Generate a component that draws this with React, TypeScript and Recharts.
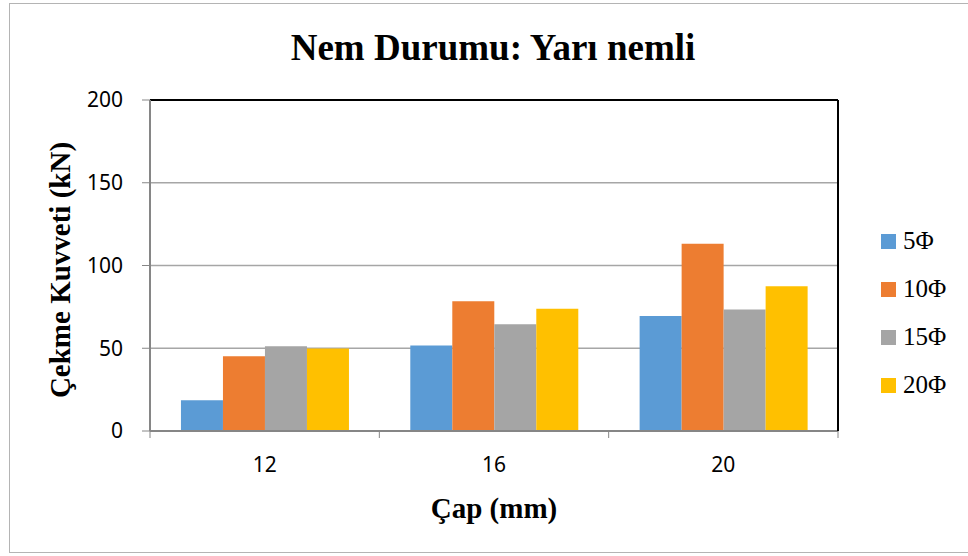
import { BarChart, Bar, XAxis, YAxis, CartesianGrid, ReferenceLine } from 'recharts'

const categories = ['12', '16', '20']
const seriesNames = ['5Φ', '10Φ', '15Φ', '20Φ']
const v5 = [18.6, 51.6, 69.5]
const v10 = [45.2, 78.4, 113.1]
const v15 = [51.2, 64.5, 73.4]
const v20 = [49.8, 73.8, 87.5]
const yTicks = [0, 50, 100, 150, 200]

const COLORS = ['#5B9BD5', '#ED7D31', '#A5A5A5', '#FFC000']
const keys = ['s5', 's10', 's15', 's20']

const data = categories.map((c, i) => ({ cap: c, s5: v5[i], s10: v10[i], s15: v15[i], s20: v20[i] }))

const AXIS = '#868686'
const TICK_FONT = '"Noto Sans", "Open Sans", sans-serif'
const SERIF = '"Liberation Serif", "Times New Roman", serif'

function XTick({ x, y, payload, index }: any) {
  const half = (838 - 150) / categories.length / 2
  return (
    <g>
      <line x1={x - half} y1={y - 8} x2={x - half} y2={y - 1} stroke={AXIS} />
      {index === categories.length - 1 && (
        <line x1={x + half} y1={y - 8} x2={x + half} y2={y - 1} stroke={AXIS} />
      )}
      <text x={x} y={y + 33} textAnchor="middle" fill="#000" fontSize={21} fontFamily={TICK_FONT}>
        {payload.value}
      </text>
    </g>
  )
}

function LegendBox() {
  return (
    <div style={{ position: 'absolute', left: 881, top: 217, fontFamily: SERIF, fontSize: 25 }}>
      {seriesNames.map((n, i) => (
        <div key={n} style={{ display: 'flex', alignItems: 'center', height: 48 }}>
          <span style={{ width: 15, height: 15, background: COLORS[i], marginRight: 7, display: 'inline-block' }} />
          <span>{n}</span>
        </div>
      ))}
    </div>
  )
}

export default function App() {
  return (
    <div style={{ position: 'absolute', left: 0, top: 0, width: 968, height: 556, background: '#fff' }}>
      <div style={{ position: 'absolute', left: 9, top: 3, width: 970, height: 550, border: '1px solid #b4b4b4', boxSizing: 'border-box' }} />
      <BarChart
        width={968}
        height={556}
        data={data}
        margin={{ top: 100, right: 129, bottom: 65, left: 90 }}
        barGap={0}
        barCategoryGap="13.5%"
        style={{ position: 'absolute', left: 0, top: 0 }}
      >
        <CartesianGrid vertical={false} stroke="#a6a6a6" strokeWidth={1.5} />
        <XAxis
          dataKey="cap"
          axisLine={{ stroke: AXIS, strokeWidth: 2 }}
          tickLine={false}
          tick={<XTick />}
          interval={0}
          height={60}
        />
        <YAxis
          domain={[0, 200]}
          ticks={yTicks}
          width={60}
          axisLine={{ stroke: AXIS, strokeWidth: 2 }}
          tickLine={{ stroke: AXIS }}
          tickSize={8}
          tick={{ fill: '#000', fontSize: 21, fontFamily: TICK_FONT }}
          tickMargin={19}
        />
        <YAxis
          yAxisId="r"
          orientation="right"
          domain={[0, 200]}
          width={1}
          tick={false}
          tickLine={false}
          axisLine={{ stroke: '#000', strokeWidth: 2 }}
        />
        <ReferenceLine y={200} stroke="#000" strokeWidth={2} />
        {keys.map((k, i) => (
          <Bar key={k} dataKey={k} name={seriesNames[i]} fill={COLORS[i]} isAnimationActive={false} />
        ))}
      </BarChart>
      <div style={{ position: 'absolute', left: 0, width: 986, top: 23, textAlign: 'center', fontFamily: SERIF, fontWeight: 'bold', fontSize: 37, lineHeight: '50px' }}>
        Nem Durumu: Yarı nemli
      </div>
      <div style={{ position: 'absolute', left: 60, top: 270, transform: 'translate(-50%, -50%) rotate(-90deg)', whiteSpace: 'nowrap', fontFamily: SERIF, fontWeight: 'bold', fontSize: 29 }}>
        Çekme Kuvveti (kN)
      </div>
      <div style={{ position: 'absolute', left: 494, top: 508, transform: 'translate(-50%, -50%)', whiteSpace: 'nowrap', fontFamily: SERIF, fontWeight: 'bold', fontSize: 29 }}>
        Çap (mm)
      </div>
      <LegendBox />
    </div>
  )
}
